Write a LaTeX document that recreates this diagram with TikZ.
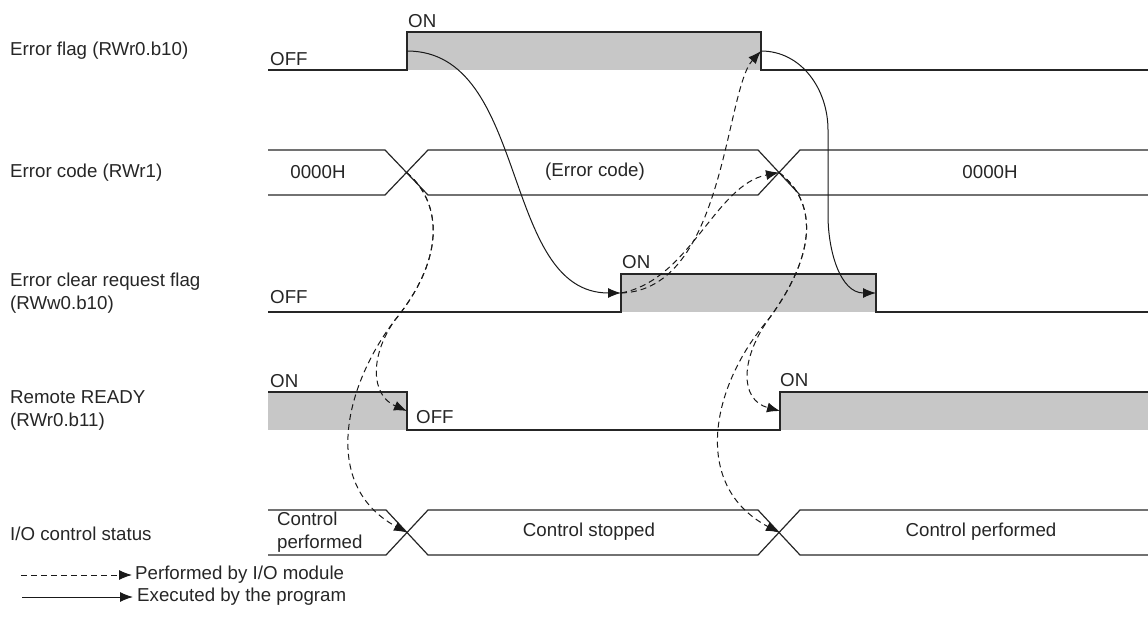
\documentclass[tikz,border=0pt]{standalone}
\usepackage{fontspec}
\setmainfont{Liberation Sans}
\usepackage{tikz}
\usetikzlibrary{arrows.meta, positioning}

\tikzset{
  wave/.style={line width=1.2pt, draw=black!85},
  hi/.style={fill=black!22},
  txt/.style={font=\fontsize{18.7}{23}\selectfont, inner sep=0pt, text=black!85},
  prog/.style={-{Latex[length=13pt,width=10pt]}, line width=1pt, draw=black!90},
  module/.style={-{Latex[length=13pt,width=10pt]}, line width=1pt, draw=black!90, dash pattern=on 6pt off 4pt},
}

\begin{document}
\begin{tikzpicture}[x=1pt, y=-1pt]
    \useasboundingbox (0,0) rectangle (1148,616);

    % 1. Tên các tín hiệu bên trái
    \foreach \y/\name/\txt in {51/ef/{Error flag (RWr0.b10)}, 173/ec/{Error code (RWr1)},
        293/ecr/{Error clear request flag\\(RWw0.b10)}, 410/rr/{Remote READY\\(RWr0.b11)},
        534/io/{I/O control status}} {
        \node[txt, anchor=west, align=left] (name-\name) at (10,\y) {\txt};
    }

    % 2. Error flag
    \fill[hi] (407,32) rectangle (761,70);
    \draw[wave] (268,70) -- (407,70) -- (407,32) -- (761,32) -- (761,70) -- (1148,70);
    \node[txt, anchor=base west] (ef-on-lbl) at (408,27.5) {ON};
    \node[txt, anchor=base west] (ef-off-lbl) at (270,65.5) {OFF};

    % 3. Error code (hai đường cắt nhau)
    \draw[wave] (268,150) -- (385,150) -- (428,195) -- (758,195) -- (800,150) -- (1148,150);
    \draw[wave] (268,195) -- (385,195) -- (428,150) -- (758,150) -- (800,195) -- (1148,195);
    \node[txt] (ec-v1) at (318,172) {0000H};
    \node[txt] (ec-v2) at (595,172) {(Error code)};
    \node[txt] (ec-v3) at (990,172) {0000H};

    % 4. Error clear request flag
    \fill[hi] (621,274) rectangle (876,312);
    \draw[wave] (268,312) -- (621,312) -- (621,274) -- (876,274) -- (876,312) -- (1148,312);
    \node[txt, anchor=base west] (ecr-on-lbl) at (622,268.5) {ON};
    \node[txt, anchor=base west] (ecr-off-lbl) at (270,303.5) {OFF};

    % 5. Remote READY
    \fill[hi] (268,392) rectangle (407,430);
    \fill[hi] (780,392) rectangle (1148,430);
    \draw[wave] (268,392) -- (407,392) -- (407,430) -- (780,430) -- (780,392) -- (1148,392);
    \node[txt, anchor=base west] (rr-on1-lbl) at (270,387.5) {ON};
    \node[txt, anchor=base west] (rr-off-lbl) at (416,423.5) {OFF};
    \node[txt, anchor=base west] (rr-on2-lbl) at (780,386.5) {ON};

    % 6. I/O control status
    \draw[wave] (268,510) -- (386,510) -- (428,555) -- (758,555) -- (800,510) -- (1148,510);
    \draw[wave] (268,555) -- (386,555) -- (428,510) -- (758,510) -- (800,555) -- (1148,555);
    \node[txt, anchor=west, align=left] (io-v1) at (277,532) {Control\\performed};
    \node[txt] (io-v2) at (589,532) {Control stopped};
    \node[txt] (io-v3) at (981,532) {Control performed};

    % 7. Các điểm sự kiện
    \coordinate (ef-on) at (407,51);
    \coordinate (ef-off) at (761,51);
    \coordinate (ec-x1) at (406.5,172.5);
    \coordinate (ec-x2) at (779,172.5);
    \coordinate (ecr-on) at (621,293);
    \coordinate (ecr-off) at (876,293);
    \coordinate (rr-off) at (407,411);
    \coordinate (rr-on) at (780,411);
    \coordinate (io-x1) at (407,532.5);
    \coordinate (io-x2) at (779,532.5);

    % 8. Mũi tên: chương trình (liền) và module (nét đứt)
    \draw[prog] (ef-on) .. controls (530,51) and (500,293) .. (ecr-on);
    \draw[prog] (ef-off) to[out=0, in=90] (828,130) -- (828,215) to[out=-90, in=180] (ecr-off);
    \draw[module] (ec-x1) .. controls (440,200) and (448,255) .. (395,320)
        .. controls (370,355) and (370,395) .. (rr-off);
    \draw[module] (ec-x1) .. controls (440,200) and (448,255) .. (395,320)
        .. controls (345,385) and (320,485) .. (io-x1);
    \draw[module] (ecr-on) .. controls (690,280) and (715,185) .. (ec-x2);
    \draw[module] (ecr-on) .. controls (725,290) and (725,90) .. (ef-off);
    \draw[module] (ec-x2) .. controls (815,200) and (820,250) .. (768,320)
        .. controls (740,360) and (740,400) .. (rr-on);
    \draw[module] (ec-x2) .. controls (815,200) and (820,250) .. (768,320)
        .. controls (712,385) and (690,485) .. (io-x2);

    % 9. Chú thích
    \node[txt, anchor=west] (lg-mod) at (135,575) {Performed by I/O module};
    \node[txt, anchor=west] (lg-prog) at (137,597) {Executed by the program};
    \coordinate (lg-mod-start) at (21,575);
    \coordinate (lg-prog-start) at (22,597);
    \draw[module, shorten >=3pt] (lg-mod-start) -- (lg-mod.west);
    \draw[prog, shorten >=4pt] (lg-prog-start) -- (lg-prog.west);

\end{tikzpicture}
\end{document}
